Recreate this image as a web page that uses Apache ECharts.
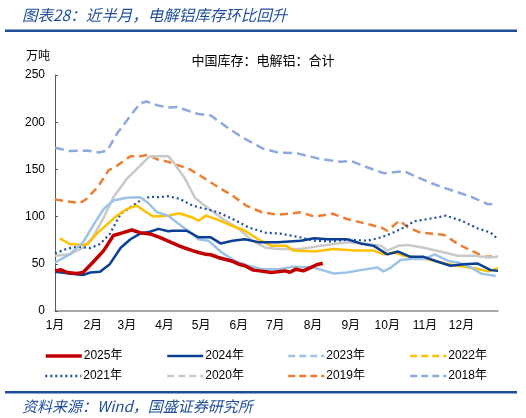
<!DOCTYPE html>
<html>
<head>
<meta charset="utf-8">
<script src="https://cdn.jsdelivr.net/npm/echarts@6/dist/echarts.min.js"></script>
<style>
html,body{margin:0;padding:0;background:#fff;}
#chart{width:526px;height:418px;}
</style>
</head>
<body>
<div id="chart"></div>
<script>
// ---------- data ----------
var monthLabels = ['1月','2月','3月','4月','5月','6月','7月','8月','9月','10月','11月','12月'];
var monthDays = [31,28,31,30,31,30,31,31,30,31,30,31];
var yTicks = [0, 50, 100, 150, 200, 250];
var seriesNames = ['2025年','2024年','2023年','2022年','2021年','2020年','2019年','2018年'];

// [day of year (0 = 1月1日), 万吨]
var s2025 = [[0,42.5],[5,43.6],[10,40.8],[18,39.7],[23,40.8],[31,51.4],[40,64],[48,80],[56,83],[63,85.8],[70,83],[78,81.6],[86,78],[93,74],[102,69],[106,67],[113,64],[118,62],[124,60],[128,59.6],[134,56.7],[145,53],[151,49.6],[156,48],[163,43.3],[168,42.5],[178,40.8],[183,41.5],[189,42.5],[193,41],[198,44.3],[204,42.5],[210,46],[215,49],[220,50.5]];
var s2024 = [[0,41.5],[12,39.7],[23,38],[29,40.8],[37,41.5],[45,49.6],[54,67],[62,76],[70,82],[78,84],[85,87],[93,84.4],[97,85],[108,85],[113,81.6],[118,78],[128,78],[136,71.6],[146,74.5],[156,76],[168,72.7],[183,72.7],[202,74.5],[213,77],[224,76],[240,76],[251,71.6],[262,69],[273,60],[282,63],[292,57.4],[303,57.4],[314,52.4],[325,48],[336,49.6],[347,50.4],[358,43.3],[364,42.5]];
var s2023 = [[0,51.4],[12,60],[23,72.7],[32,92],[40,108],[48,117],[59,120],[70,120.5],[76,115],[84,104.6],[93,101],[102,92],[113,81.6],[118,76],[126,74.5],[137,62],[148,53],[159,48],[170,44.3],[184,44.3],[196,47],[213,46],[229,39.7],[240,40.8],[251,43.3],[265,46],[270,42],[276,46],[284,54],[292,55],[303,55],[312,60],[323,53],[331,51.4],[342,46],[350,39.7],[358,38],[362,37]];
var s2022 = [[4,77],[12,71],[23,70],[27,71],[34,81.6],[43,92],[51,101],[59,108],[67,111.7],[75,104.6],[81,100],[93,101],[102,103.5],[113,99],[118,95.7],[124,101],[132,97.5],[146,90],[156,85],[167,76],[178,69],[190,69],[196,64],[213,63],[229,65.6],[246,64],[262,64],[270,60],[279,62],[287,58.5],[298,56.7],[309,54],[320,50.4],[331,48],[344,45.4],[356,42],[364,45.4]];
var s2021 = [[0,61],[10,66],[18,68],[29,66.7],[37,71],[45,81.6],[54,103],[62,110],[70,117],[78,121],[86,120.5],[93,121.6],[102,119],[113,111.7],[124,108],[134,104.6],[146,97.5],[159,88.6],[173,83],[185,82],[199,78.7],[213,74.5],[226,73.7],[240,75.5],[257,74.5],[268,78],[276,82],[287,88.6],[295,95],[312,98.6],[321,101],[334,95.7],[347,87.6],[358,83],[364,76]];
var s2020 = [[0,58.5],[12,60],[23,67],[31,78],[40,99],[48,120.5],[59,140],[70,154],[73,158],[78,164],[89,164],[93,164],[97,158],[106,142],[115,120],[121,113.5],[129,106],[140,95.7],[151,87],[162,74.5],[173,67],[184,65.6],[202,65.6],[218,69],[240,72.7],[257,71],[268,69],[273,64],[282,69],[290,70],[303,67],[320,62],[331,58.5],[345,58.5],[356,56.7],[364,57.4]];
var s2019 = [[0,118],[10,116],[21,114.5],[26,119],[35,131],[44,149],[51,154],[62,164],[70,164],[77,165.6],[84,160.6],[93,158],[102,154],[110,150.7],[121,142],[132,133],[146,122],[157,111.7],[170,104.6],[184,102],[202,104.6],[213,100],[228,103],[240,97.5],[257,92],[268,88.6],[273,85],[283,95.7],[290,88.6],[300,83],[312,81.6],[320,80.5],[331,71],[342,64],[353,57.4],[364,58]];
var s2018 = [[0,173],[12,169.5],[26,170],[37,168],[43,170],[51,188],[62,207],[70,220],[75,222],[84,218],[92,215.6],[100,216],[117,209],[128,207],[141,195],[155,183],[171,172],[183,168],[199,167],[218,161],[235,158],[243,159],[257,152],[270,146],[287,148],[301,140],[314,133],[328,127],[342,121],[356,113],[361,113.5]];

// ---------- axis categories (one per day) ----------
var dayCats = [], monthStart = {};
(function(){
  var d = 0;
  for (var m = 0; m < monthDays.length; m++) {
    monthStart[d] = monthLabels[m];
    for (var k = 0; k < monthDays[m]; k++) { dayCats.push(String(d)); d++; }
  }
})();

var FONT = '"Liberation Sans", "Noto Sans CJK SC", sans-serif';
var CJK = '"Noto Sans CJK SC", "Liberation Sans", sans-serif';
var BLUE = '#1F4E9A';

var styles = {
  '2025年': {data: s2025, color: '#C00000', width: 3.5, type: 'solid', legendType: 'solid'},
  '2024年': {data: s2024, color: '#0B3F94', width: 2.5, type: 'solid', legendType: 'solid'},
  '2023年': {data: s2023, color: '#9DC3E6', width: 2.5, type: 'solid', legendType: [7,4]},
  '2022年': {data: s2022, color: '#FFC000', width: 2.5, type: 'solid', legendType: [7,4]},
  '2021年': {data: s2021, color: '#1F4E9A', width: 2.2, type: [2,3], legendType: [2,3]},
  '2020年': {data: s2020, color: '#C9C9C9', width: 2.5, type: 'solid', legendType: [7,4]},
  '2019年': {data: s2019, color: '#ED7D31', width: 2.5, type: [8,5], legendType: [7,4]},
  '2018年': {data: s2018, color: '#8EA9DB', width: 2.5, type: [9,5], legendType: [7,4]}
};

var drawOrder = ['2018年','2019年','2020年','2021年','2022年','2023年','2024年','2025年'];
var series = drawOrder.map(function(n, i){
  var st = styles[n];
  return {
    name: n, type: 'line', data: st.data, symbol: 'none', smooth: false,
    z: 2 + i,
    lineStyle: {color: st.color, width: st.width, type: st.type, cap: 'butt'},
    itemStyle: {color: st.color},
    emphasis: {disabled: true}
  };
});

var legendCols = [44, 166, 287, 409];
var legendRows = [350, 370];
var legends = seriesNames.map(function(n, i){
  var st = styles[n];
  return {
    id: 'lg' + i,
    orient: 'horizontal',
    left: legendCols[i % 4], top: legendRows[Math.floor(i / 4)],
    itemWidth: 36, itemHeight: 12, itemGap: 4, padding: 0,
    selectedMode: false,
    textStyle: {fontSize: 12, color: '#000', fontFamily: FONT, padding: [0, 0, 0, -3]},
    data: [{
      name: n,
      itemStyle: {opacity: 0, borderWidth: 0},
      lineStyle: {type: st.legendType, width: n === '2025年' ? 3.5 : 2.5, color: st.color, opacity: 1}
    }]
  };
});

var chart = echarts.init(document.getElementById('chart'), null, {renderer: 'canvas'});
chart.setOption({
  animation: false,
  backgroundColor: '#fff',
  title: [
    {text: '图表28：近半月，电解铝库存环比回升', left: 17, top: 2,
     textStyle: {fontSize: 15.5, fontWeight: 'normal', fontStyle: 'italic', color: BLUE, fontFamily: CJK}},
    {text: '中国库存：电解铝：合计', left: 'center', top: 49,
     textStyle: {fontSize: 13, fontWeight: 'normal', color: '#000', fontFamily: CJK}},
    {text: '万吨', left: 21, top: 44,
     textStyle: {fontSize: 12, fontWeight: 'normal', color: '#000', fontFamily: CJK}},
    {text: '资料来源：Wind，国盛证券研究所', left: 17, top: 394,
     textStyle: {fontSize: 15, fontWeight: 'normal', fontStyle: 'italic', color: BLUE, fontFamily: CJK}}
  ],
  graphic: [
    {type: 'rect', shape: {x: 5, y: 29.5, width: 512, height: 2.5}, style: {fill: BLUE}, silent: true},
    {type: 'rect', shape: {x: 5, y: 391, width: 512, height: 2.5}, style: {fill: BLUE}, silent: true}
  ],
  legend: legends,
  grid: {left: 55, right: 28, top: 75, bottom: 107, containLabel: false},
  xAxis: {
    type: 'category', data: dayCats, boundaryGap: false,
    axisLine: {show: true, lineStyle: {color: '#8C8C8C', width: 1.5}},
    axisTick: {show: false},
    axisLabel: {
      interval: function(idx){ return monthStart[idx] !== undefined; },
      formatter: function(v, idx){ return monthStart[idx] || ''; },
      fontSize: 12, color: '#000', fontFamily: FONT, margin: 9
    },
    splitLine: {show: false}
  },
  yAxis: {
    type: 'value', min: yTicks[0], max: yTicks[yTicks.length - 1], interval: 50,
    axisLine: {show: true, lineStyle: {color: '#595959', width: 1}},
    axisTick: {show: true, inside: true, length: 3, lineStyle: {color: '#595959'}},
    axisLabel: {fontSize: 12, color: '#000', fontFamily: FONT, margin: 10},
    splitLine: {show: false}
  },
  series: series
});
</script>
</body>
</html>
